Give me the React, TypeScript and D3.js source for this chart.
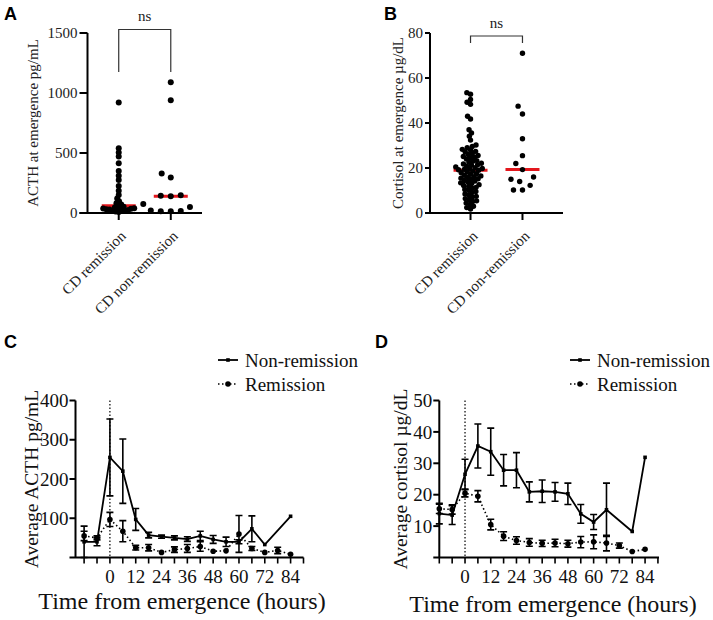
import React from "react";
import * as d3 from "d3";

// ---------------- DATA ----------------
const categories = ["CD remission", "CD non-remission"];

const acthRemission = [920, 540, 505, 470, 415, 350, 310, 275, 225, 185, 150, 120, 98, 82, 70, 60, 52, 46, 42, 40, 38, 35, 33, 31, 29, 26, 23, 20, 16, 12, 8];
const acthNonRemission = [1090, 940, 330, 295, 148, 143, 140, 75, 50, 20, 17, 15, 14];
const acthTicks = [0, 500, 1000, 1500];

const cortRemission = [53.5, 52.8, 50.5, 49.2, 48.3, 43, 41.8, 37, 35.6, 34.1, 32.4, 30.2, 29.6, 29, 28.3, 28, 27.4, 27.1, 26.4, 26, 25.6, 25.1, 24.8, 24.5, 24, 23.3, 23, 22.6, 22.1, 21.8, 21.5, 21.2, 20.8, 20.5, 20.1, 19.8, 19.6, 19.4, 19.2, 19, 18.6, 18.2, 17.9, 17.5, 17.2, 16.8, 16.5, 16.1, 15.8, 15.5, 15.2, 14.9, 14.5, 14.2, 13.8, 13.4, 13.1, 12.6, 12.2, 11.9, 11.4, 11, 10.5, 10.1, 9.6, 9.1, 8.5, 8, 7.4, 7.1, 6.4, 6, 5.4, 5.1, 4.4, 3.8, 3, 2.4, 1.8];
const cortNonRemission = [71, 47.5, 44, 33, 25.5, 22, 19.3, 16, 15, 14, 12.3, 10.2, 10.2];
const cortTicks = [0, 20, 40, 60, 80];

const hours = [-12, -6, 0, 6, 12, 18, 24, 30, 36, 42, 48, 54, 60, 66, 72, 78, 84];
const hourTicks = [0, 12, 24, 36, 48, 60, 72, 84];

const acthNonRemMean = [40, 40, 255, 220, 97, 57, 53, 50, 47, 55, 46, 40, 40, 73, 33, null, 105];
const acthNonRemSem = [40, 10, 98, 82, 28, 7, 4, 5, 6, 12, 10, 12, 5, 33, 0, null, 0];
const acthRemMean = [55, 50, 97, 67, 25, 25, 13, 20, 23, 28, 16, 17, 60, 23, 13, 18, 8];
const acthRemSem = [12, 5, 18, 27, 6, 8, 0, 7, 10, 12, 0, 0, 47, 5, 0, 8, 0];
const acthMeanTicks = [100, 200, 300, 400];

const cortNonRemMean = [14, 13.5, 26.5, 35.5, 33.7, 27.8, 27.8, 20.9, 21.1, 20.9, 20.3, 13.9, 11.3, 15.2, null, 8.3, 31.9];
const cortNonRemSem = [3.3, 3, 4.8, 7, 7.5, 5, 5.6, 3.2, 3.6, 3, 3.4, 3, 2.4, 8.5, null, 0, 0];
const cortRemMean = [15.5, 15.3, 20.5, 19.5, 10.5, 6.8, 5.4, 4.8, 4.5, 4.6, 4.4, 4.9, 5, 4.6, 3.8, 1.9, 2.6];
const cortRemSem = [1.5, 1.5, 1.2, 1.8, 1.7, 1.4, 1.2, 1.2, 1, 1.2, 1.1, 1.8, 2.2, 2.5, 0.8, 0, 0];
const cortMeanTicks = [10, 20, 30, 40, 50];

const legendLabels = ["Non-remission", "Remission"];

// ---------------- HELPERS ----------------
const SERIF = "Liberation Serif, Tinos, Times New Roman, DejaVu Serif, serif";
const SANS = "Liberation Sans, Arimo, Arial, sans-serif";
const RED = "#e3171d";
const serif = (size: number) => ({ fontFamily: SERIF, fontSize: size });

function beeswarm(values: number[], y: (v: number) => number, cx: number, minDist: number) {
  const sorted = values.map((v) => ({ v, y: y(v), x: 0 })).sort((a, b) => a.v - b.v);
  const placed: { v: number; y: number; x: number }[] = [];
  for (const p of sorted) {
    const intervals: [number, number][] = [];
    for (const q of placed) {
      const dy = Math.abs(q.y - p.y);
      if (dy < minDist) {
        const dx = Math.sqrt(minDist * minDist - dy * dy);
        intervals.push([q.x - dx, q.x + dx]);
      }
    }
    const cands = [0];
    intervals.forEach(([a, b]) => cands.push(a, b));
    cands.sort((a, b) => Math.abs(a) - Math.abs(b));
    let x = 0;
    for (const c of cands) {
      if (intervals.every(([a, b]) => c <= a + 1e-6 || c >= b - 1e-6)) {
        x = c;
        break;
      }
    }
    placed.push({ ...p, x });
  }
  return placed.map((p) => ({ ...p, x: cx + p.x }));
}

type DotPanelProps = {
  letter: string;
  letterX: number;
  axisX: number;
  axisEnd: number;
  padding: number;
  domainMax: number;
  ticks: number[];
  tickLen: number;
  groups: number[][];
  radii: number[];
  minDists: number[];
  title: string;
  titleX: number;
  bracketTop: number;
  bracketBottom: number;
  nsY: number;
};

function DotPanel(p: DotPanelProps) {
  const y = d3.scaleLinear().domain([0, p.domainMax]).range([213, 33]);
  const x = d3.scalePoint<string>().domain(categories).range([p.axisX, p.axisEnd]).padding(p.padding);
  const y0 = y(0);
  const x1 = x(categories[0])!;
  const x2 = x(categories[1])!;
  return (
    <g>
      <text x={p.letterX} y={20} style={{ fontFamily: SANS, fontWeight: "bold", fontSize: 18 }}>{p.letter}</text>
      {p.groups.map((g, i) => {
        const cx = x(categories[i])!;
        const m = d3.median(g)!;
        return <line key={"m" + i} x1={cx - 17} x2={cx + 17} y1={y(m)} y2={y(m)} stroke={RED} strokeWidth={3} />;
      })}
      {p.groups.map((g, i) =>
        beeswarm(g, y, x(categories[i])!, p.minDists[i]).map((d, j) => (
          <circle key={i + "-" + j} cx={d.x} cy={d.y} r={p.radii[i]} fill="#000" />
        ))
      )}
      <line x1={p.axisX} x2={p.axisX} y1={y(p.domainMax)} y2={y0} stroke="#000" strokeWidth={2} />
      <line x1={p.axisX - p.tickLen} x2={p.axisEnd} y1={y0} y2={y0} stroke="#000" strokeWidth={2} />
      {p.ticks.map((t) => (
        <g key={t}>
          <line x1={p.axisX - p.tickLen} x2={p.axisX} y1={y(t)} y2={y(t)} stroke="#000" strokeWidth={2} />
          <text x={p.axisX - p.tickLen - 2} y={y(t)} dy="0.35em" textAnchor="end" style={serif(15)} fill="#222">{t}</text>
        </g>
      ))}
      {categories.map((c) => (
        <g key={c}>
          <line x1={x(c)} x2={x(c)} y1={y0} y2={y0 + 7} stroke="#000" strokeWidth={2} />
          <text transform={`translate(${x(c)! + 8},${y0 + 24}) rotate(-45)`} textAnchor="end" style={serif(15)} fill="#222">{c}</text>
        </g>
      ))}
      <text transform={`translate(${p.titleX},${(y(p.domainMax) + y0) / 2}) rotate(-90)`} textAnchor="middle" style={serif(15)} fill="#222">{p.title}</text>
      <path d={`M${x1},${p.bracketBottom}V${p.bracketTop}H${x2}V${p.bracketBottom}`} fill="none" stroke="#333" strokeWidth={1.2} />
      <text x={(x1 + x2) / 2} y={p.nsY} textAnchor="middle" style={serif(15)} fill="#222">ns</text>
    </g>
  );
}

type TimePanelProps = {
  letter: string;
  letterX: number;
  axisX: number;
  xDomain: [number, number];
  xRange: [number, number];
  yMax: number;
  yTicks: number[];
  nonMean: (number | null)[];
  nonSem: (number | null)[];
  remMean: number[];
  remSem: number[];
  title: string;
  titleX: number;
  xTitleX: number;
  xTitleY: number;
  legendX: number;
};

function TimePanel(p: TimePanelProps) {
  const x = d3.scaleLinear().domain(p.xDomain).range(p.xRange);
  const y = d3.scaleLinear().domain([0, p.yMax]).range([557.5, 400.5]);
  const y0 = y(0);
  const non = hours.map((h, i) => ({ h, m: p.nonMean[i], s: p.nonSem[i] })).filter((d) => d.m != null) as { h: number; m: number; s: number }[];
  const rem = hours.map((h, i) => ({ h, m: p.remMean[i], s: p.remSem[i] }));
  const line = d3.line<{ h: number; m: number }>().x((d) => x(d.h)).y((d) => y(d.m));
  const minorTicks = d3.range(-12, 91, 6);
  const bars = (data: { h: number; m: number; s: number }[], key: string) =>
    data.filter((d) => d.s > 0).map((d, i) => {
      const cx = x(d.h);
      const lo = y(Math.max(0, d.m - d.s));
      const hi = y(d.m + d.s);
      return (
        <path key={key + i} d={`M${cx},${lo}V${hi}M${cx - 3.5},${hi}H${cx + 3.5}M${cx - 3.5},${lo}H${cx + 3.5}`} stroke="#000" strokeWidth={1.6} fill="none" />
      );
    });
  const lx = p.legendX;
  return (
    <g>
      <text x={p.letterX} y={348} style={{ fontFamily: SANS, fontWeight: "bold", fontSize: 18 }}>{p.letter}</text>
      <line x1={x(0)} x2={x(0)} y1={y(p.yMax)} y2={y0} stroke="#000" strokeWidth={1.2} strokeDasharray="1.5 2" />
      <path d={line(rem)!} fill="none" stroke="#000" strokeWidth={1.6} strokeDasharray="1.5 2.5" />
      {bars(rem, "r")}
      {rem.map((d, i) => <circle key={"rc" + i} cx={x(d.h)} cy={y(d.m)} r={2.8} fill="#000" />)}
      <path d={line(non)!} fill="none" stroke="#000" strokeWidth={1.8} />
      {bars(non, "n")}
      {non.map((d, i) => <rect key={"nr" + i} x={x(d.h) - 1.8} y={y(d.m) - 1.8} width={3.6} height={3.6} fill="#000" />)}
      <line x1={p.axisX} x2={p.axisX} y1={y(p.yMax)} y2={y0} stroke="#000" strokeWidth={2} />
      <line x1={p.axisX - 6} x2={p.xRange[1]} y1={y0} y2={y0} stroke="#000" strokeWidth={2} />
      {p.yTicks.map((t) => (
        <g key={t}>
          <line x1={p.axisX - 6} x2={p.axisX} y1={y(t)} y2={y(t)} stroke="#000" strokeWidth={2} />
          <text x={p.axisX - 7} y={y(t)} dy="0.35em" textAnchor="end" style={serif(19)} fill="#111">{t}</text>
        </g>
      ))}
      {minorTicks.map((t) => (
        <line key={"mt" + t} x1={x(t)} x2={x(t)} y1={y0} y2={y0 + 6} stroke="#000" strokeWidth={1.6} />
      ))}
      {hourTicks.map((t) => (
        <text key={"ht" + t} x={x(t)} y={y0 + 25} textAnchor="middle" style={serif(19)} fill="#111">{t}</text>
      ))}
      <text transform={`translate(${p.titleX},${(y(p.yMax) + y0) / 2}) rotate(-90)`} textAnchor="middle" style={serif(19.5)} fill="#111">{p.title}</text>
      <text x={p.xTitleX} y={p.xTitleY} textAnchor="middle" style={serif(24)} fill="#111">Time from emergence (hours)</text>
      <line x1={lx} x2={lx + 20} y1={360} y2={360} stroke="#000" strokeWidth={1.8} />
      <rect x={lx + 8.2} y={358.2} width={3.6} height={3.6} fill="#000" />
      <text x={lx + 27} y={366.5} style={serif(19)} fill="#111">{legendLabels[0]}</text>
      <line x1={lx} x2={lx + 20} y1={384} y2={384} stroke="#000" strokeWidth={1.6} strokeDasharray="1.5 2.5" />
      <circle cx={lx + 10} cy={384} r={2.8} fill="#000" />
      <text x={lx + 27} y={390.5} style={serif(19)} fill="#111">{legendLabels[1]}</text>
    </g>
  );
}

export default function App() {
  return (
    <svg width={713} height={620} style={{ position: "absolute", left: 0, top: 0, background: "#fff" }}>
      <rect width={713} height={620} fill="#fff" />
      <DotPanel
        letter="A"
        letterX={4}
        axisX={87.5}
        axisEnd={202}
        padding={0.6}
        domainMax={1500}
        ticks={acthTicks}
        tickLen={8}
        groups={[acthRemission, acthNonRemission]}
        radii={[3, 3]}
        minDists={[3.2, 10]}
        title="ACTH at emergence pg/mL"
        titleX={38}
        bracketTop={29.5}
        bracketBottom={72}
        nsY={21}
      />
      <DotPanel
        letter="B"
        letterX={384}
        axisX={430}
        axisEnd={563}
        padding={0.78}
        domainMax={80}
        ticks={cortTicks}
        tickLen={5}
        groups={[cortRemission, cortNonRemission]}
        radii={[2.7, 2.7]}
        minDists={[4, 9]}
        title="Cortisol at emergence µg/dL"
        titleX={403}
        bracketTop={36}
        bracketBottom={43}
        nsY={28}
      />
      <TimePanel
        letter="C"
        letterX={4}
        axisX={75.5}
        xDomain={[-16, 90]}
        xRange={[75.5, 303.5]}
        yMax={400}
        yTicks={acthMeanTicks}
        nonMean={acthNonRemMean}
        nonSem={acthNonRemSem}
        remMean={acthRemMean}
        remSem={acthRemSem}
        title="Average ACTH pg/mL"
        titleX={38}
        xTitleX={182}
        xTitleY={609}
        legendX={218}
      />
      <TimePanel
        letter="D"
        letterX={375}
        axisX={439.3}
        xDomain={[-12, 90.5]}
        xRange={[439.3, 659]}
        yMax={50}
        yTicks={cortMeanTicks}
        nonMean={cortNonRemMean}
        nonSem={cortNonRemSem}
        remMean={cortRemMean}
        remSem={cortRemSem}
        title="Average cortisol µg/dL"
        titleX={407}
        xTitleX={553}
        xTitleY={612}
        legendX={570}
      />
    </svg>
  );
}
